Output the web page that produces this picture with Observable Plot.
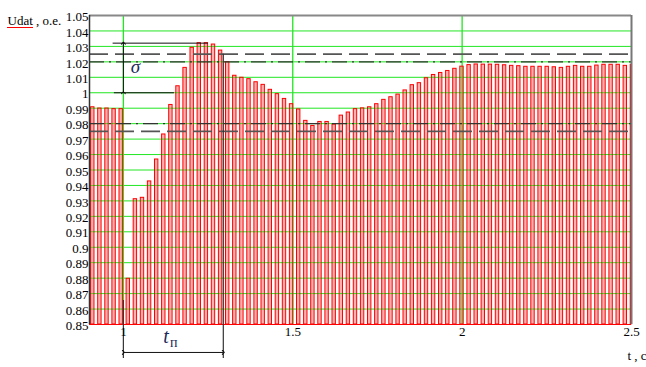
<!DOCTYPE html>
<html>
<head>
<meta charset="utf-8">
<script src="https://cdn.jsdelivr.net/npm/d3@7"></script>
<script src="https://cdn.jsdelivr.net/npm/@observablehq/plot@0.6"></script>
<style>
  body { margin: 0; background: #fff; }
  #chart { width: 646px; height: 367px; }
  #chart svg, #chart svg text { font-family: "Liberation Serif", "Times New Roman", serif; }
</style>
</head>
<body>
<div id="chart"></div>
<script>
// Tick values
const yTicks = [0.85, 0.86, 0.87, 0.88, 0.89, 0.9, 0.91, 0.92, 0.93, 0.94, 0.95,
                0.96, 0.97, 0.98, 0.99, 1, 1.01, 1.02, 1.03, 1.04, 1.05];
const xTicks = [1, 1.5, 2, 2.5];
const gridY = [0.86, 0.87, 0.88, 0.89, 0.9, 0.91, 0.92, 0.93, 0.94, 0.95,
               0.96, 0.97, 0.98, 0.99, 1, 1.01, 1.02, 1.03, 1.04];
const gridX = [1, 1.5, 2];

// Tolerance bands: ±2.5 % (dashed) and ±2 % (dash-dot)
const bandDashed = [0.975, 1.025];
const bandDashDot = [0.98, 1.02];

// Sampled voltage Udat, one pulse per sample
const tFirst = 0.9047;   // s, first sample
const tStep = 0.02096;   // s, sample period
const pulseWidth = 0.0100;
const udat = [
  0.9906, 0.9898, 0.9898, 0.9894, 0.9894,
  0.8796, 0.9311, 0.9320, 0.9426, 0.9568,
  0.9730, 0.9921, 1.0042, 1.0161, 1.0291,
  1.0321, 1.0321, 1.0312, 1.0273, 1.0198,
  1.0110, 1.0097, 1.0088, 1.0068, 1.0051,
  1.0019, 0.9991, 0.9960, 0.9926, 0.9892,
  0.9818, 0.9785, 0.9811, 0.9811, 0.9794,
  0.9852, 0.9872, 0.9894, 0.9899, 0.9906,
  0.9926, 0.9954, 0.9971, 0.9988, 1.0015,
  1.0049, 1.0062, 1.0094, 1.0115, 1.0128,
  1.0141, 1.0155, 1.0169, 1.0179, 1.0183,
  1.0182, 1.0182, 1.0181, 1.0178, 1.0174,
  1.0172, 1.0168, 1.0168, 1.0168, 1.0168,
  1.0165, 1.0161, 1.0168, 1.0174, 1.0168,
  1.0168, 1.0176, 1.0181, 1.0181, 1.0181,
  1.0174, 1.0181
];

// Overshoot (σ) and transient time (tп) markup
const steadyLevel = 1.0;
const sigmaTopSpan = [0.9697, 1.251];
const sigmaBaseSpan = [0.9735, 1.1507];
const tTransient = [1.0, 1.295];
const bracketLevel = 0.8319;
const bracketBottom = 0.828;
const bracketLeftTop = 0.8655;

const xMin = 0.9, xMax = 2.5, yMin = 0.85, yMax = 1.05;
const pulses = udat.map((v, i) => ({t: tFirst + i * tStep, v}));
const peak = d3.max(udat);
const fmt = d => String(+d.toFixed(2));
const serif = "Liberation Serif, Times New Roman, serif";
const ink = "#1c2a5a";
const txt = {fontFamily: serif, fill: "#000", fontSize: 13};

const chart = Plot.plot({
  width: 646,
  height: 367,
  marginLeft: 89,
  marginRight: 15,
  marginTop: 15,
  marginBottom: 43,
  style: {fontFamily: serif, fontSize: "13px", background: "#fff", color: "#000"},
  x: {domain: [xMin, xMax], axis: null},
  y: {domain: [yMin, yMax], axis: null},
  marks: [
    // pulse bodies
    Plot.rect(pulses, {
      x1: "t", x2: d => Math.min(d.t + pulseWidth, xMax),
      y1: yMin, y2: "v", fill: "#ffb0b0"
    }),
    // grid
    Plot.ruleY(gridY, {stroke: "#22e622", strokeWidth: 1}),
    Plot.ruleX(gridX, {stroke: "#22e622", strokeWidth: 1.3}),
    // pulse outlines
    Plot.rect(pulses, {
      x1: "t", x2: d => Math.min(d.t + pulseWidth, xMax),
      y1: yMin, y2: "v", fill: "none", stroke: "#ff0000", strokeWidth: 1
    }),
    // tolerance bands
    Plot.ruleY(bandDashed, {stroke: "#555", strokeWidth: 1.6, strokeDasharray: "19,7"}),
    Plot.ruleY(bandDashDot, {stroke: "#333", strokeWidth: 1.4, strokeDasharray: "15,5,2,5"}),
    // frame
    Plot.ruleY([yMax], {stroke: "#888", strokeWidth: 2}),
    Plot.ruleX([xMax], {stroke: "#777", strokeWidth: 2}),
    Plot.ruleX([xMin], {stroke: "#333", strokeWidth: 1.5}),
    Plot.ruleY([yMin], {stroke: "#ff0000", strokeWidth: 1}),
    // σ markup
    Plot.ruleY([{y: peak, a: sigmaTopSpan[0], b: sigmaTopSpan[1]},
                {y: steadyLevel, a: sigmaBaseSpan[0], b: sigmaBaseSpan[1]}],
               {y: "y", x1: "a", x2: "b", stroke: "#111", strokeWidth: 1}),
    Plot.link([{x: tTransient[0], y1: steadyLevel, y2: peak}], {
      x1: "x", x2: "x", y1: "y1", y2: "y2",
      stroke: "#111", strokeWidth: 1, markerStart: "arrow", markerEnd: "arrow"
    }),
    Plot.text(["σ"], {x: 1.0355, y: 1.0168, text: d => d, fontSize: 19,
                      fontStyle: "italic", fill: ink, fontFamily: serif}),
    // tп markup
    Plot.ruleX([{x: tTransient[0], y1: bracketLeftTop, y2: bracketBottom},
                {x: tTransient[1], y1: bandDashed[1], y2: bracketBottom}],
               {x: "x", y1: "y1", y2: "y2", stroke: "#333", strokeWidth: 1.2}),
    Plot.link([{a: tTransient[0], b: tTransient[1], y: bracketLevel}], {
      x1: "a", x2: "b", y1: "y", y2: "y",
      stroke: "#111", strokeWidth: 1, markerStart: "arrow", markerEnd: "arrow"
    }),
    Plot.text(["t"], {x: 1.1256, y: 0.842, text: d => d, fontSize: 20,
                      fontStyle: "italic", fill: ink, fontFamily: serif}),
    Plot.text(["п"], {x: 1.1486, y: 0.8385, text: d => d, fontSize: 14,
                      fill: ink, fontFamily: serif}),
    // tick labels
    Plot.text(yTicks, {...txt, x: xMin, y: d => d, text: fmt, textAnchor: "end",
                       dx: -1, dy: 1.5}),
    Plot.text(xTicks, {...txt, x: d => d, y: yMin, text: fmt, dy: 7}),
    // axis titles
    Plot.text(["Udat , o.e."], {...txt, frameAnchor: "top-left", text: d => d,
                                textAnchor: "start", dx: -82, dy: 0.4}),
    Plot.text(["t , с"], {...txt, frameAnchor: "bottom-right", text: d => d,
                          textAnchor: "start", dx: -4, dy: 35.8})
  ]
});

// legend swatch under the y title
d3.select(chart).append("line")
  .attr("x1", 7).attr("x2", 33).attr("y1", 27.5).attr("y2", 27.5)
  .attr("stroke", "#ff0000").attr("stroke-width", 1);

document.getElementById("chart").append(chart);
</script>
</body>
</html>
